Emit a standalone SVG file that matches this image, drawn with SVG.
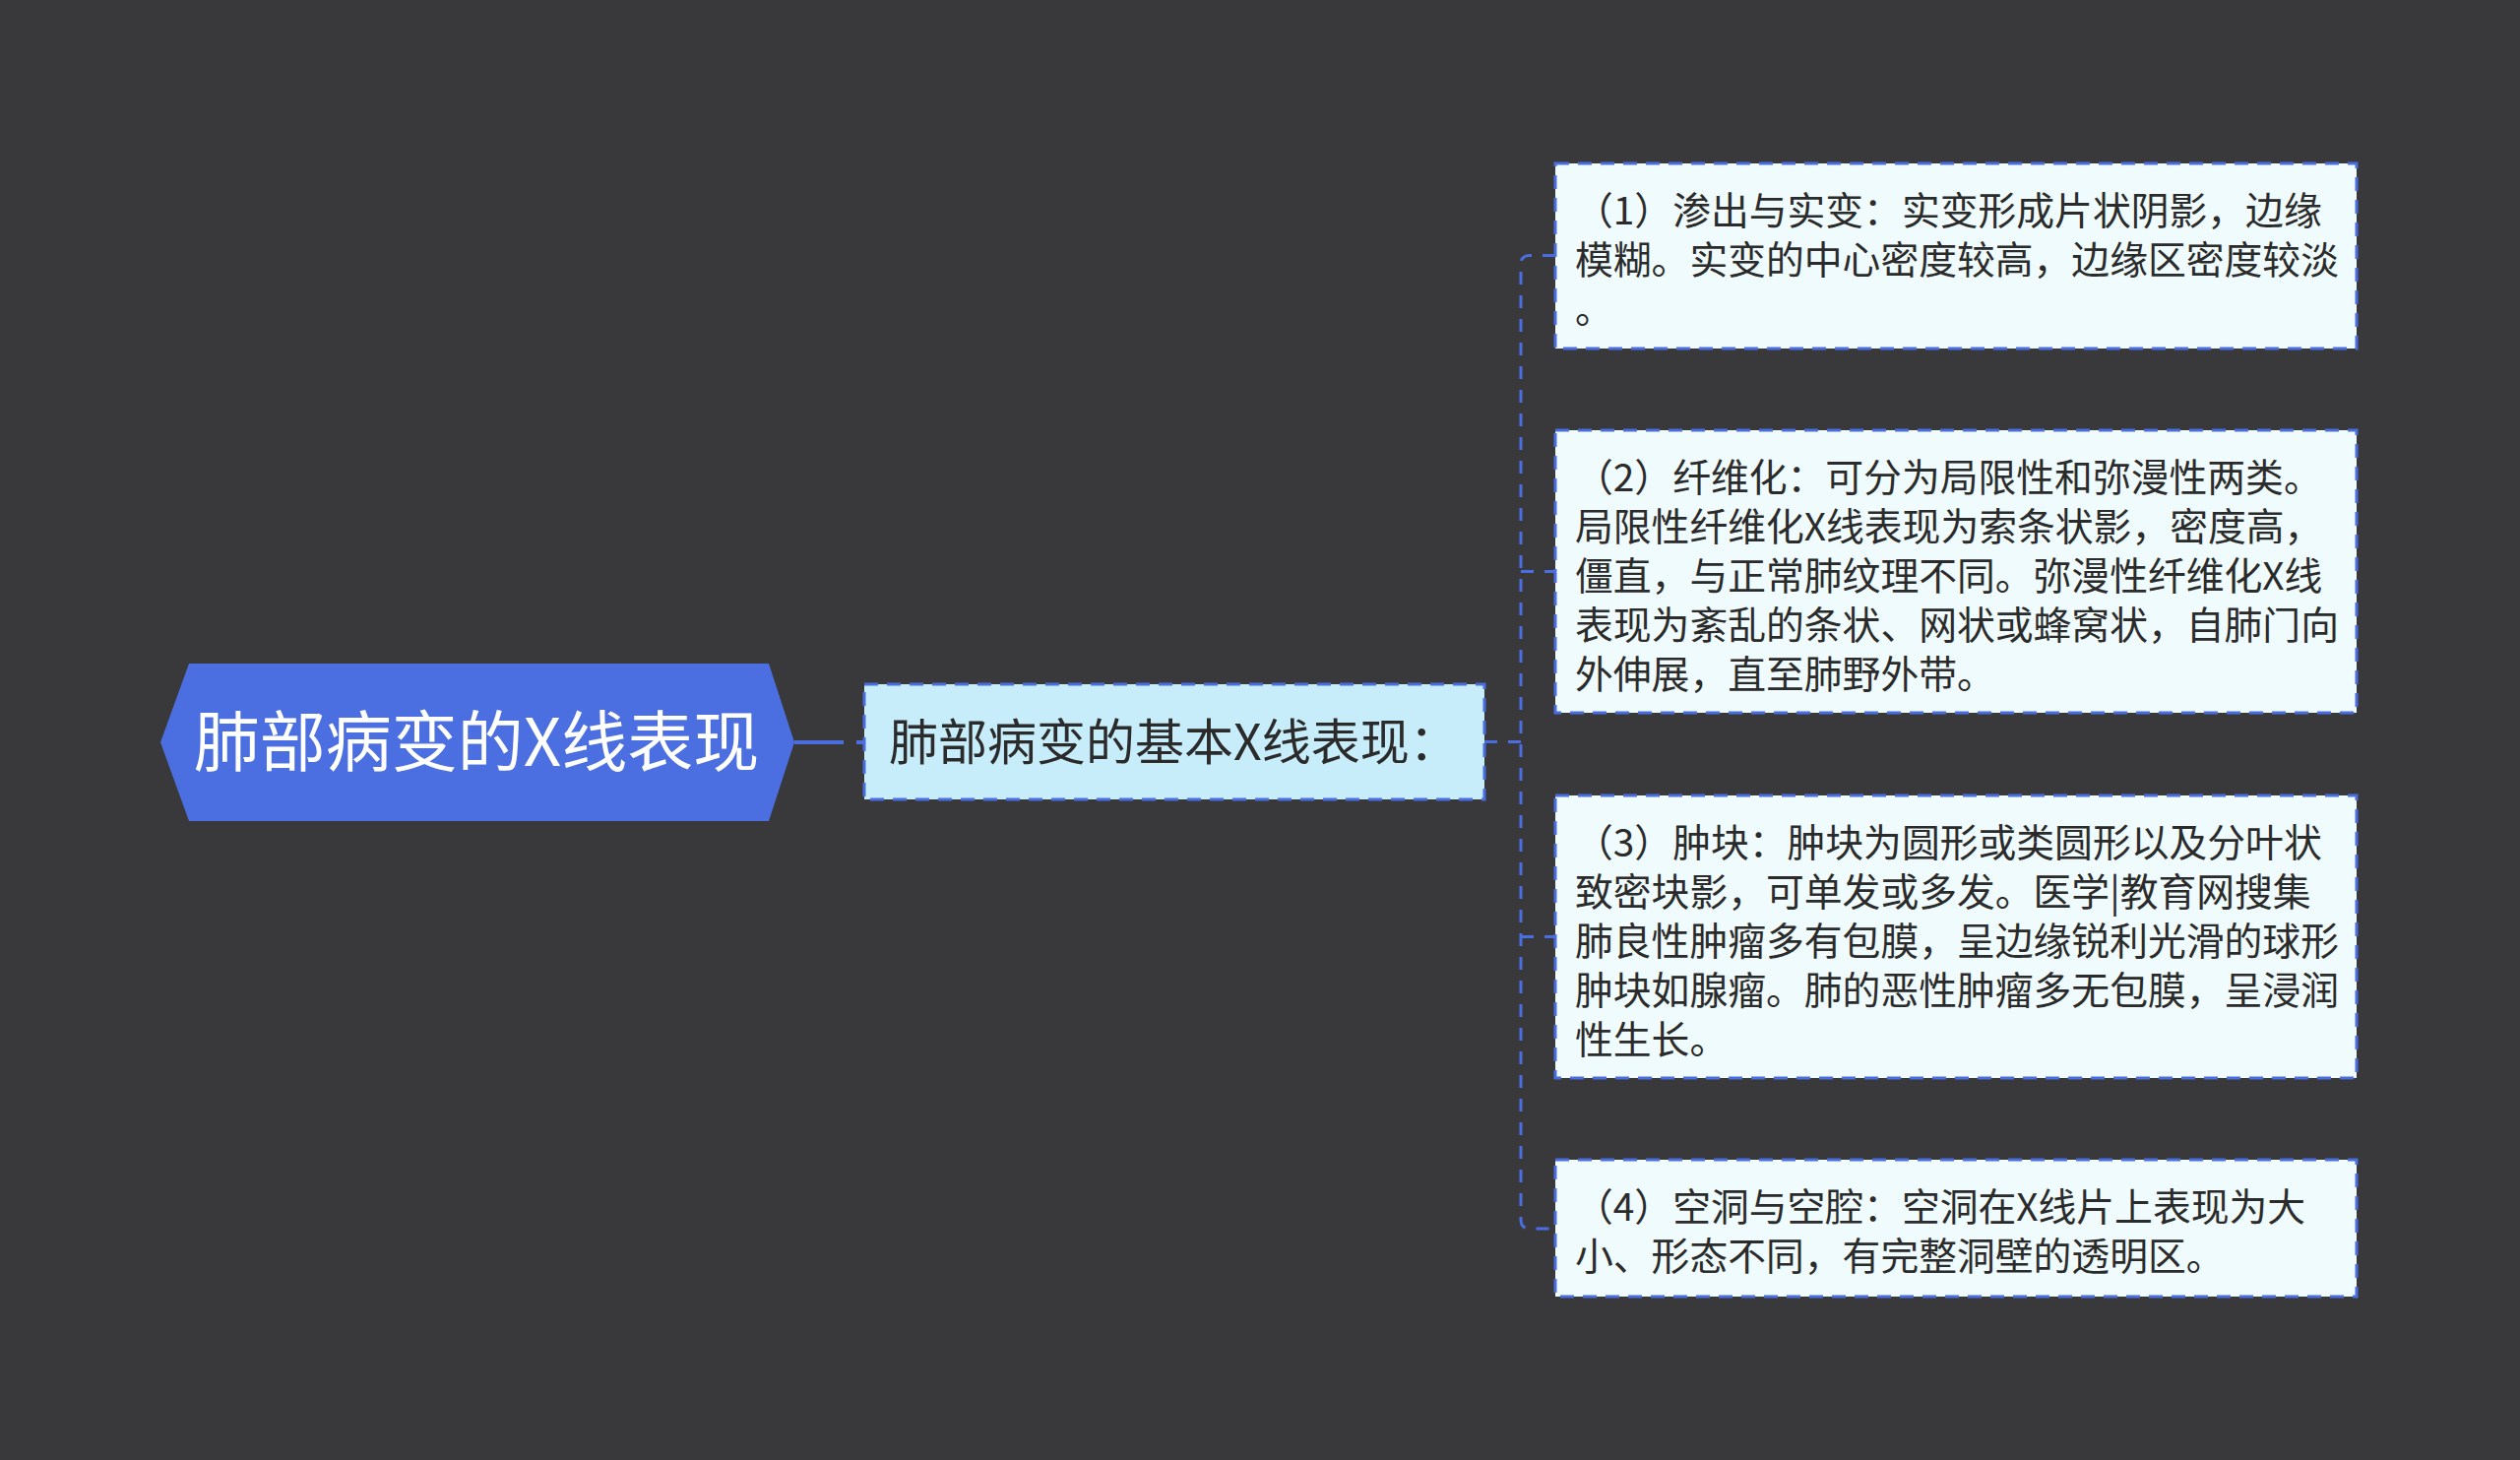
<svg xmlns="http://www.w3.org/2000/svg" width="2560" height="1483" viewBox="0 0 2560 1483">
<style>
.bg{fill:#39393b}
.root{fill:#4b6fe0}
.rootText{font-family:"Noto Sans CJK SC","Noto Sans",sans-serif;font-size:67px;fill:#ffffff}
.child{fill:#c7edfb;stroke:#4a6ee0;stroke-width:3;stroke-dasharray:14 9}
.leaf{fill:#effbfc;stroke:#4a6ee0;stroke-width:3;stroke-dasharray:14 9}
.childText{font-family:"Noto Sans CJK SC","Noto Sans",sans-serif;font-size:50px;fill:#2b2b2b}
.leafText{font-family:"Noto Sans CJK SC","Noto Sans",sans-serif;font-size:38.8px;fill:#2b2b2b}
.conn{fill:none;stroke:#4a6ee0;stroke-width:3;stroke-dasharray:13 11}
.connMain{fill:none;stroke:#4a6ee0;stroke-width:4;stroke-dasharray:50 13 9 100}
</style>
<rect class="bg" x="0" y="0" width="2560" height="1483"/>
<g id="connectors">
<path class="connMain" d="M807,754 H878"/>
<path class="conn" d="M1508,753.5 H1545"/>
<path class="conn" d="M1580,259.5 H1554 Q1545,259.5 1545,268.5 V1239 Q1545,1248 1554,1248 H1580"/>
<path class="conn" d="M1545,580.5 H1580"/>
<path class="conn" d="M1545,951.5 H1580"/>
</g>
<g id="root">
<polygon class="root" points="163,754 192,674 781,674 807,754 781,834 192,834"/>
<text class="rootText" x="484" y="778" text-anchor="middle">肺部病变的X线表现</text>
</g>
<g id="child">
<rect class="child" x="878" y="695" width="630" height="117"/>
<text class="childText" x="903" y="772">肺部病变的基本X线表现：</text>
</g>
<g id="leaf1">
<rect class="leaf" x="1580" y="166" width="814" height="188"/>
<text class="leafText" x="1600" y="227.5">（1）渗出与实变：实变形成片状阴影，边缘</text>
<text class="leafText" x="1600" y="277.5">模糊。实变的中心密度较高，边缘区密度较淡</text>
<text class="leafText" x="1600" y="327.5">。</text>
</g>
<g id="leaf2">
<rect class="leaf" x="1580" y="437" width="814" height="287"/>
<text class="leafText" x="1600" y="499">（2）纤维化：可分为局限性和弥漫性两类。</text>
<text class="leafText" x="1600" y="549">局限性纤维化X线表现为索条状影，密度高，</text>
<text class="leafText" x="1600" y="599">僵直，与正常肺纹理不同。弥漫性纤维化X线</text>
<text class="leafText" x="1600" y="649">表现为紊乱的条状、网状或蜂窝状，自肺门向</text>
<text class="leafText" x="1600" y="699">外伸展，直至肺野外带。</text>
</g>
<g id="leaf3">
<rect class="leaf" x="1580" y="808" width="814" height="287"/>
<text class="leafText" x="1600" y="870">（3）肿块：肿块为圆形或类圆形以及分叶状</text>
<text class="leafText" x="1600" y="920">致密块影，可单发或多发。医学|教育网搜集</text>
<text class="leafText" x="1600" y="970">肺良性肿瘤多有包膜，呈边缘锐利光滑的球形</text>
<text class="leafText" x="1600" y="1020">肿块如腺瘤。肺的恶性肿瘤多无包膜，呈浸润</text>
<text class="leafText" x="1600" y="1070">性生长。</text>
</g>
<g id="leaf4">
<rect class="leaf" x="1580" y="1178" width="814" height="139"/>
<text class="leafText" x="1600" y="1240">（4）空洞与空腔：空洞在X线片上表现为大</text>
<text class="leafText" x="1600" y="1290">小、形态不同，有完整洞壁的透明区。</text>
</g>
</svg>
